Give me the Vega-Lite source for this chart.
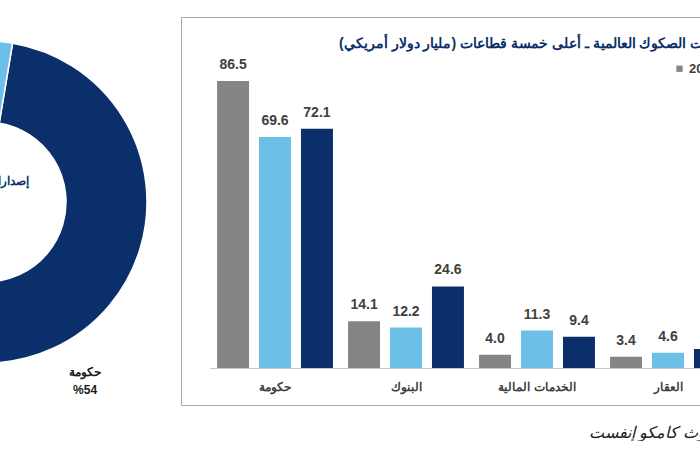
{
  "$schema": "https://vega.github.io/schema/vega-lite/v6.json",
  "background": "white",
  "padding": {"left": -192, "top": 16, "right": -43, "bottom": 0},
  "spacing": 17,
  "bounds": "flush",
  "resolve": {"scale": {"color": "independent", "theta": "independent"}, "legend": {"color": "independent"}},
  "config": {
    "font": "Liberation Sans",
    "view": {"stroke": "#A6A6A6", "strokeWidth": 1}
  },
  "title": {
    "text": "المصدر: بحوث كامكو إنفست",
    "orient": "bottom",
    "anchor": "start",
    "frame": "group",
    "dx": 781,
    "offset": 19,
    "fontSize": 16,
    "fontStyle": "italic",
    "fontWeight": "normal",
    "color": "#222222"
  },
  "hconcat": [
    {
      "width": 356,
      "height": 388,
      "layer": [
        {
          "data": {"values": [{"sector": "حكومة", "share": 54}, {"sector": "شركات", "share": 46}]},
          "mark": {"type": "arc", "innerRadius": 80, "outerRadius": 161, "stroke": "white", "strokeWidth": 1.5, "yOffset": -9},
          "encoding": {
            "theta": {"field": "share", "type": "quantitative", "stack": true, "scale": {"range": [0.166, 6.449]}},
            "order": {"field": "share", "sort": "descending"},
            "color": {"field": "sector", "type": "nominal", "scale": {"domain": ["حكومة", "شركات"], "range": ["#0A2F6A", "#6CC0E8"]}, "legend": null}
          }
        },
        {
          "data": {"values": [{"sector": "حكومة", "share": 54}, {"sector": "شركات", "share": 46}]},
          "transform": [{"calculate": "datum.sector == 'حكومة' ? [datum.sector, '%' + datum.share] : ''", "as": "lbl"}],
          "mark": {"type": "text", "radius": 197, "thetaOffset": 0.752, "yOffset": -9, "fontWeight": "bold", "fontSize": 12, "lineHeight": 18, "color": "#1A1A1A"},
          "encoding": {
            "theta": {"field": "share", "type": "quantitative", "stack": true},
            "order": {"field": "share", "sort": "descending"},
            "detail": {"field": "sector", "type": "nominal"},
            "text": {"field": "lbl"}
          }
        },
        {
          "data": {"values": [{"caption": "إصدارات الصكوك"}]},
          "mark": {"type": "text", "dy": -29, "fontWeight": "bold", "fontSize": 11.5, "color": "#0A2F6A"},
          "encoding": {"text": {"field": "caption"}}
        }
      ]
    },
    {
      "width": 581,
      "height": 388,
      "title": {
        "text": "إصدارات الصكوك العالمية ـ أعلى خمسة قطاعات (مليار دولار أمريكي)",
        "anchor": "start",
        "dx": 158,
        "offset": -34,
        "fontSize": 14,
        "fontWeight": "bold",
        "color": "#0A2F6A"
      },
      "data": {
        "values": [
          {"sector": "حكومة", "year": "2018", "value": 86.5},
          {"sector": "حكومة", "year": "2019", "value": 69.6},
          {"sector": "حكومة", "year": "2020", "value": 72.1},
          {"sector": "البنوك", "year": "2018", "value": 14.1},
          {"sector": "البنوك", "year": "2019", "value": 12.2},
          {"sector": "البنوك", "year": "2020", "value": 24.6},
          {"sector": "الخدمات المالية", "year": "2018", "value": 4.0},
          {"sector": "الخدمات المالية", "year": "2019", "value": 11.3},
          {"sector": "الخدمات المالية", "year": "2020", "value": 9.4},
          {"sector": "العقار", "year": "2018", "value": 3.4},
          {"sector": "العقار", "year": "2019", "value": 4.6},
          {"sector": "العقار", "year": "2020", "value": 5.7}
        ]
      },
      "encoding": {
        "x": {
          "field": "sector",
          "type": "nominal",
          "sort": ["حكومة", "البنوك", "الخدمات المالية", "العقار"],
          "scale": {"range": [28.5, 552.5], "paddingInner": 0, "paddingOuter": 0},
          "axis": {
            "title": null,
            "labelAngle": 0,
            "ticks": false,
            "domainColor": "#C8C8C8",
            "labelFontSize": 12,
            "labelFontWeight": "bold",
            "labelColor": "#404040",
            "labelPadding": 13,
            "offset": -37
          }
        },
        "xOffset": {"field": "year", "type": "nominal", "scale": {"paddingInner": 0.238, "paddingOuter": 0.18}},
        "y": {"field": "value", "type": "quantitative", "scale": {"domain": [0, 86.5], "range": [351, 64], "nice": false}, "axis": null}
      },
      "layer": [
        {
          "mark": {"type": "bar"},
          "encoding": {
            "color": {
              "field": "year",
              "type": "nominal",
              "scale": {"range": ["#858585", "#6CC0E8", "#0A2F6A"]},
              "legend": {
                "orient": "none",
                "legendX": 492,
                "legendY": 45,
                "direction": "horizontal",
                "title": null,
                "symbolType": "square",
                "symbolSize": 40,
                "symbolStrokeWidth": 0,
                "labelOffset": 3,
                "labelFontSize": 13,
                "labelFontWeight": "bold",
                "labelColor": "#404040",
                "columnPadding": 12
              }
            }
          }
        },
        {
          "mark": {"type": "text", "baseline": "alphabetic", "dy": -12, "fontWeight": "bold", "fontSize": 14, "color": "#404040"},
          "encoding": {"text": {"field": "value", "type": "quantitative", "format": ".1f"}}
        }
      ]
    }
  ]
}
